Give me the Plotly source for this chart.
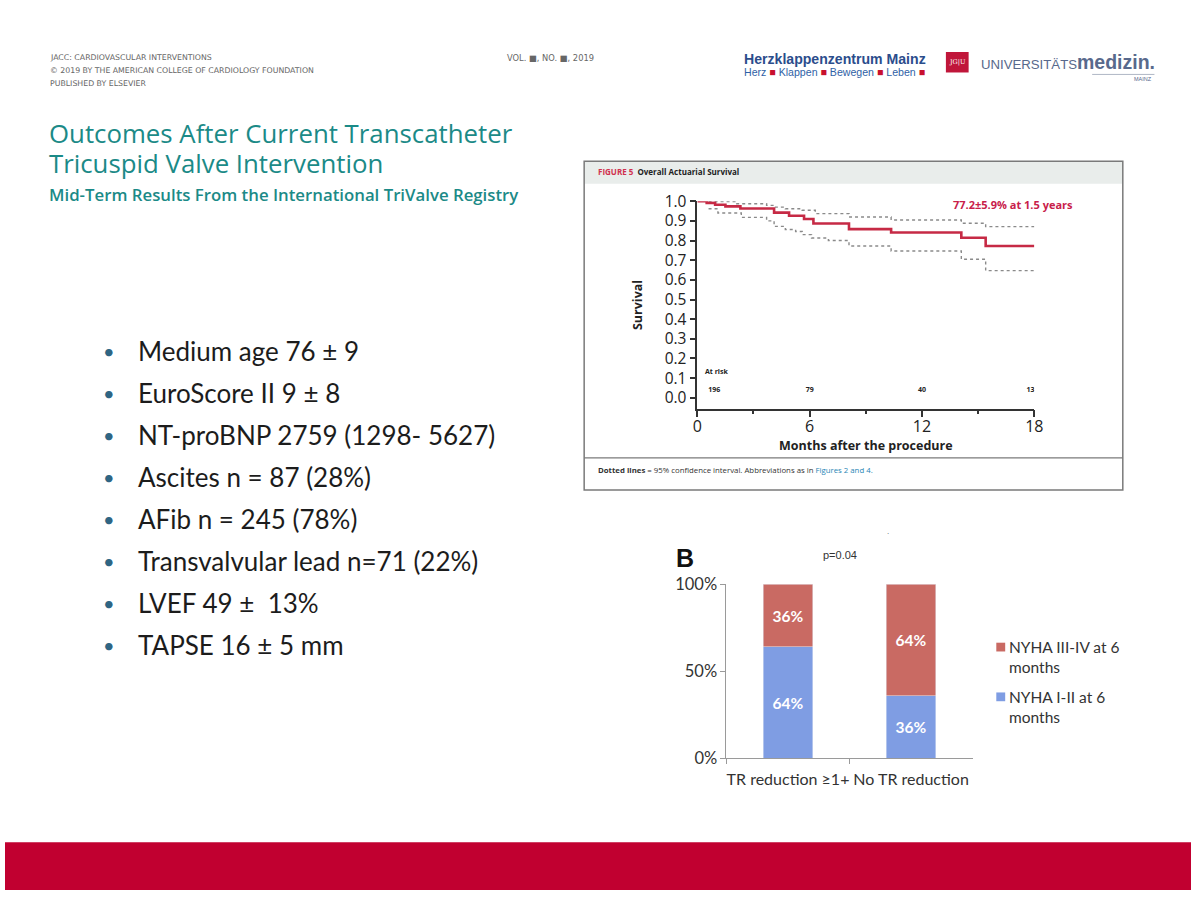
import plotly.graph_objects as go

W, H = 1200, 900

# ---------------- data ----------------
surv_months = [0, 0.5, 0.95, 1.5, 2.3, 4.1, 4.9, 5.7, 6.2, 8.1, 10.35, 14.1, 15.4, 18]
surv_values = [1.0, 0.992, 0.982, 0.974, 0.963, 0.942, 0.926, 0.91, 0.887, 0.858, 0.841, 0.814, 0.772, 0.772]
upper_months = [0.6, 2.1, 3.7, 4.1, 4.7, 5.6, 6.3, 8.1, 10.35, 14.1, 15.4, 18]
upper_values = [0.999, 0.987, 0.979, 0.97, 0.962, 0.954, 0.937, 0.92, 0.905, 0.888, 0.871, 0.871]
lower_months = [0.6, 1.1, 2.35, 3.7, 4.1, 4.7, 5.25, 5.6, 6.1, 7.0, 8.1, 10.35, 14.1, 15.4, 18]
lower_values = [0.962, 0.94, 0.918, 0.9, 0.872, 0.856, 0.846, 0.83, 0.813, 0.8, 0.772, 0.747, 0.705, 0.647, 0.647]
at_risk_months = [0.9, 6, 12, 17.8]
at_risk_counts = ["196", "79", "40", "13"]
surv_xticks = [0, 6, 12, 18]
surv_yticks = [0.0, 0.1, 0.2, 0.3, 0.4, 0.5, 0.6, 0.7, 0.8, 0.9, 1.0]

bar_categories = ["TR reduction ≥1+", "No TR reduction"]
nyha_1_2 = [64, 36]
nyha_3_4 = [36, 64]
bar_series_names = ["NYHA I-II at 6<br>months", "NYHA III-IV at 6<br>months"]
bar_colors = ["#7f9de3", "#c96a63"]
bar_yticks = [0, 50, 100]
bar_yticklabels = ["0%", "50%", "100%"]

bullets = [
    "Medium age 76 ± 9",
    "EuroScore II 9 ± 8",
    "NT-proBNP 2759 (1298- 5627)",
    "Ascites n = 87 (28%)",
    "AFib n = 245 (78%)",
    "Transvalvular lead n=71 (22%)",
    "LVEF 49 ±  13%",
    "TAPSE 16 ± 5 mm",
]


def X(px):
    return px / W


def Y(py):
    return 1 - py / H


RED = "#c62a45"
TEAL = "#1b8a87"

fig = go.Figure()

# ---------------- survival chart ----------------
fig.add_trace(go.Scatter(x=upper_months, y=upper_values, mode="lines", line=dict(color="#8a8a8a", width=1.4, dash="dot", shape="hv"),
                         xaxis="x", yaxis="y", showlegend=False, hoverinfo="skip"))
fig.add_trace(go.Scatter(x=lower_months, y=lower_values, mode="lines", line=dict(color="#8a8a8a", width=1.4, dash="dot", shape="hv"),
                         xaxis="x", yaxis="y", showlegend=False, hoverinfo="skip"))
fig.add_trace(go.Scatter(x=surv_months, y=surv_values, mode="lines", line=dict(color=RED, width=2.6, shape="hv"),
                         xaxis="x", yaxis="y", showlegend=False, cliponaxis=False))
fig.add_trace(go.Scatter(x=at_risk_months, y=[0.04] * len(at_risk_months), mode="text", text=at_risk_counts,
                         textfont=dict(family="Open Sans", size=7, color="#222", weight="bold"),
                         xaxis="x", yaxis="y", showlegend=False, hoverinfo="skip"))

# ---------------- bar chart ----------------
for vals, name, col in [(nyha_1_2, bar_series_names[0], bar_colors[0]), (nyha_3_4, bar_series_names[1], bar_colors[1])]:
    fig.add_trace(go.Bar(x=bar_categories, y=vals, name=name, marker=dict(color=col),
                         text=[f"{v}%" for v in vals], textposition="inside", insidetextanchor="middle",
                         textfont=dict(family="Lato", size=15.5, color="white", weight="bold"),
                         width=0.4, xaxis="x2", yaxis="y2", showlegend=False))

shapes = []
ann = []


def A(px, py, text, size, color="#222", family="Open Sans", xanchor="left", **kw):
    font = dict(family=family, size=size, color=color)
    if "weight" in kw:
        font["weight"] = kw.pop("weight")
    ann.append(dict(x=X(px), y=Y(py), xref="paper", yref="paper", text=text, showarrow=False,
                    xanchor=xanchor, yanchor="middle", font=font, **kw))


# survival box
shapes.append(dict(type="rect", xref="paper", yref="paper", x0=X(586), x1=X(1131), y0=Y(153), y1=Y(176),
                   fillcolor="#e9edeb", line=dict(width=0), layer="below"))
shapes.append(dict(type="rect", xref="paper", yref="paper", x0=X(586), x1=X(1131), y0=Y(153), y1=Y(490),
                   line=dict(color="#7a7a7a", width=1.5)))
shapes.append(dict(type="line", xref="paper", yref="paper", x0=X(586), x1=X(1131), y0=Y(457), y1=Y(457),
                   line=dict(color="#7a7a7a", width=1.2)))

# bottom red band
shapes.append(dict(type="rect", xref="paper", yref="paper", x0=0, x1=1, y0=0, y1=Y(851),
                   fillcolor="#c10030", line=dict(width=0)))

# JGU logo box
shapes.append(dict(type="rect", xref="paper", yref="paper", x0=X(952), x1=X(975), y0=Y(62), y1=Y(41),
                   fillcolor="#c0163a", line=dict(width=0)))
shapes.append(dict(type="line", xref="paper", yref="paper", x0=X(1100), x1=X(1163), y0=Y(64), y1=Y(64),
                   line=dict(color="#9aa3b5", width=0.8)))

# bar legend (squares + texts)
for name, col, yy in [(bar_series_names[1], bar_colors[1], 651), (bar_series_names[0], bar_colors[0], 702)]:
    shapes.append(dict(type="rect", xref="paper", yref="paper", x0=X(1003), x1=X(1012), y0=Y(yy + 4.5), y1=Y(yy - 4.5),
                       fillcolor=col, line=dict(width=0)))
    ann.append(dict(x=X(1014), y=Y(yy - 11), xref="paper", yref="paper", text=name, showarrow=False, xanchor="left",
                    yanchor="top", align="left", font=dict(family="Lato", size=15.5, color="#333")))

# bullets
for i, b in enumerate(bullets):
    yy = 348 + i * 43
    A(105, yy, "•", 20, color="#2f6583", family="Lato", xanchor="center")
    A(133, yy, b, 26, color="#1c1c1c", family="Lato")

# header small texts
for txt, yy in [("JACC: CARDIOVASCULAR INTERVENTIONS", 47), ("© 2019 BY THE AMERICAN COLLEGE OF CARDIOLOGY FOUNDATION", 60),
                ("PUBLISHED BY ELSEVIER", 73)]:
    A(44, yy, txt, 7.8, color="#666", family="DejaVu Sans")
A(506, 47, "VOL. ■, NO. ■, 2019", 8.3, color="#666", family="DejaVu Sans")

# logos
A(746, 48, "<b>Herzklappenzentrum Mainz</b>", 14.1, color="#2b4d8c", family="Liberation Sans")
sq = "<span style='color:#c8102e'>■</span>"
A(746, 62, f"Herz {sq} Klappen {sq} Bewegen {sq} Leben {sq}", 10.6, color="#2f5fa6", family="Liberation Sans")
A(963.5, 51.5, "JG|U", 6.5, color="white", family="DejaVu Serif", xanchor="center")
A(985, 51, "UNIVERSITÄTS<b><span style='font-size:19.5px'>medizin.</span></b>", 13.2, color="#58698c", family="Liberation Sans")
A(1163, 69, "MAINZ", 5.5, color="#58698c", family="Liberation Sans", xanchor="right")

# title
A(43, 124, "Outcomes After Current Transcatheter", 25.8, color=TEAL, weight=500)
A(43, 155, "Tricuspid Valve Intervention", 25.8, color=TEAL, weight=500)
A(43, 187, "Mid-Term Results From the International TriValve Registry", 16.8, color=TEAL, weight=600)

# survival texts
A(598, 164, "<span style='color:#d0314e'>FIGURE 5</span>  Overall Actuarial Survival", 8, color="#222", weight="bold")
A(598, 469, "<b>Dotted lines</b> = 95% confidence interval. Abbreviations as in <span style='color:#1f86b5'>Figures 2 and 4.</span>",
  7.8, color="#333")
A(1083, 197.5, "<b>77.2±5.9% at 1.5 years</b>", 11, color="#c8204a", xanchor="right")
A(706, 368, "<b>At risk</b>", 7, color="#222")

# bar chart texts
A(688, 560, "<b>B</b>", 25, color="#111", family="Liberation Sans", xanchor="center")
A(845, 557, "p=0.04", 11, color="#333", family="Liberation Sans", xanchor="center")
A(893, 533, ".", 8, color="#555", family="Liberation Sans", xanchor="center")

fig.update_layout(
    width=W, height=H, autosize=False, margin=dict(l=0, r=0, t=0, b=0),
    paper_bgcolor="white", plot_bgcolor="rgba(0,0,0,0)",
    shapes=shapes, annotations=ann, barmode="stack", showlegend=False,
    xaxis=dict(domain=[X(700.5), X(1041.5)], range=[0, 18], tickvals=surv_xticks, ticks="outside", ticklen=7, tickwidth=1.5,
               showline=True, linecolor="#333", linewidth=1.5, tickcolor="#333", showgrid=False, zeroline=False,
               minor=dict(dtick=3, ticks="outside", ticklen=4, tickwidth=1.5, tickcolor="#333"),
               tickfont=dict(family="Open Sans", size=16, color="#222"), tickangle=0, ticklabelstandoff=-5,
               title=dict(text="<b>Months after the procedure</b>", font=dict(family="Open Sans", size=12.5, color="#222"), standoff=0),
               anchor="y", fixedrange=True),
    yaxis=dict(domain=[Y(406.5), Y(194)], range=[-0.055, 1.0], tickvals=surv_yticks, tickformat=".1f", ticks="outside", ticklen=6,
               tickwidth=1.5, showline=True, linecolor="#333", linewidth=1.5, tickcolor="#333", showgrid=False, zeroline=False,
               tickfont=dict(family="Open Sans", size=15.5, color="#222"),
               title=dict(text="<b>Survival</b>", font=dict(family="Open Sans", size=12.5, color="#222"), standoff=19),
               anchor="x", fixedrange=True),
    xaxis2=dict(domain=[X(730), X(979)], range=[-0.5, 1.5], showline=True, linecolor="#9a9a9a", linewidth=1, ticks="outside",
                tickson="boundaries", ticklen=5, tickcolor="#9a9a9a", showgrid=False, zeroline=False, tickangle=0,
                ticklabelstandoff=6,
                tickfont=dict(family="Lato", size=16, color="#333"), anchor="y2", fixedrange=True),
    yaxis2=dict(domain=[Y(765), Y(586.7)], range=[0, 100], tickvals=bar_yticks, ticktext=bar_yticklabels, showline=True,
                linecolor="#9a9a9a", linewidth=1, ticks="outside", ticklen=5, tickcolor="#9a9a9a", showgrid=False, zeroline=False,
                tickfont=dict(family="Lato", size=16.5, color="#333"), anchor="x2", fixedrange=True),
)

post = ("document.documentElement.style.margin='0';document.documentElement.style.overflow='hidden';"
        "document.body.style.margin='0';document.body.style.padding='0';document.body.style.overflow='hidden';"
        "var d=document.getElementById('{plot_id}');"
        "d.style.position='fixed';d.style.left='0px';d.style.top='0px';")
fig.write_html("out.html", config={"displayModeBar": False}, post_script=post)
